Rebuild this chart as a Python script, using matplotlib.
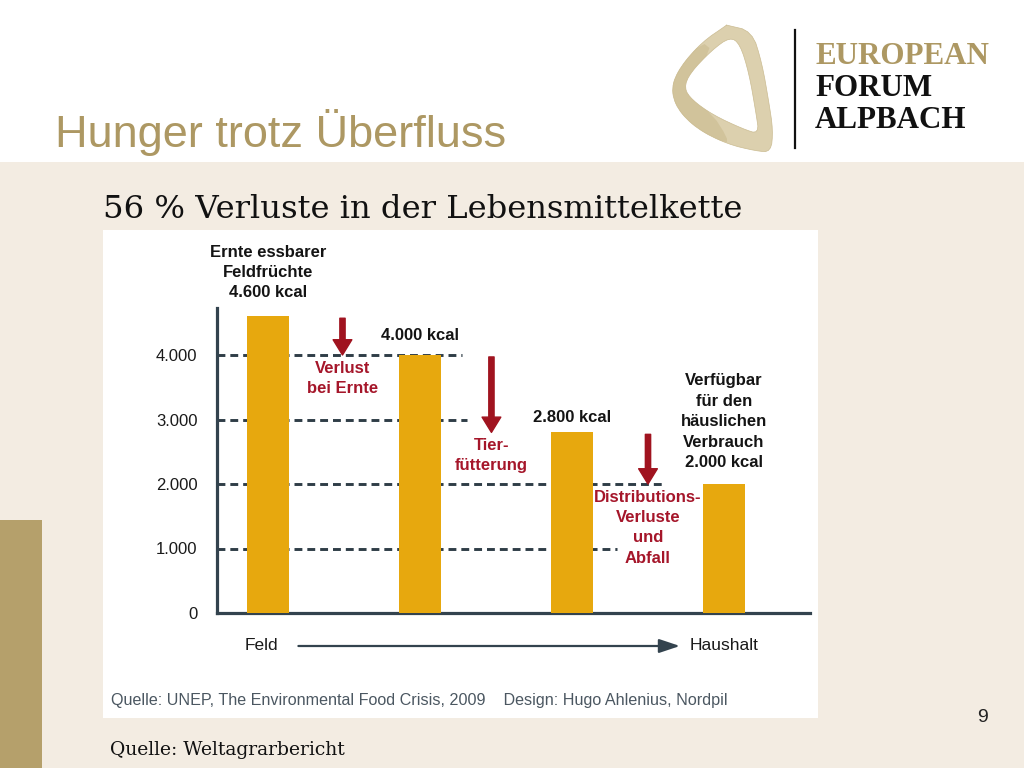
import matplotlib
matplotlib.use("Agg")
import matplotlib.pyplot as plt
import numpy as np
from matplotlib.path import Path
from matplotlib.patches import PathPatch, Rectangle

# ---------------- data ----------------
stages = ["Ernte", "nach Ernte", "nach Tierfütterung", "Haushalt"]
values = [4600, 4000, 2800, 2000]
value_labels = ["Ernte essbarer\nFeldfrüchte\n4.600 kcal",
                "4.000 kcal",
                "2.800 kcal",
                "Verfügbar\nfür den\nhäuslichen\nVerbrauch\n2.000 kcal"]
loss_labels = ["Verlust\nbei Ernte", "Tier-\nfütterung",
               "Distributions-\nVerluste\nund\nAbfall"]
yticks = [0, 1000, 2000, 3000, 4000]
ytick_labels = ["0", "1.000", "2.000", "3.000", "4.000"]
axis_ends = ["Feld", "Haushalt"]

title = "Hunger trotz Überfluss"
subtitle = "56 % Verluste in der Lebensmittelkette"
chart_source = "Quelle: UNEP, The Environmental Food Crisis, 2009    Design: Hugo Ahlenius, Nordpil"
slide_source = "Quelle: Weltagrarbericht"
page_number = "9"
logo_words = ["EUROPEAN", "FORUM", "ALPBACH"]

# ---------------- style ----------------
W, H = 1024, 768
BEIGE = "#f3ece2"
BROWN = "#b5a06b"
GOLD = "#ad9863"
BAR = "#e7a80e"
RED = "#a0131f"
RED_TXT = "#a5162a"
SLATE = "#33434e"
SANS = ["Liberation Sans", "DejaVu Sans"]
SERIF = ["DejaVu Serif"]
LOGO_SERIF = ["Liberation Serif", "DejaVu Serif"]
LS = 1.45

fig = plt.figure(figsize=(W / 100, H / 100), dpi=100)
fig.patch.set_facecolor("white")

deco = fig.add_axes([0, 0, 1, 1], zorder=0)
deco.set_xlim(0, W)
deco.set_ylim(H, 0)
deco.axis("off")

deco.add_patch(Rectangle((0, 162), W, H - 162, color=BEIGE, lw=0))
deco.add_patch(Rectangle((0, 520), 42, H - 520, color=BROWN, lw=0))
deco.add_patch(Rectangle((103, 230), 715, 488, color="white", lw=0))

# title & texts
deco.text(55, 132, title, fontsize=32.5, color=GOLD, family=SANS,
          ha="left", va="center")
deco.text(103, 209, subtitle, fontsize=23.2, color="#111111", family=SERIF,
          ha="left", va="center")
deco.text(110, 750, slide_source, fontsize=13.5, color="#111111",
          family=SERIF, ha="left", va="center")
deco.text(983, 718, page_number, fontsize=14, color="#222222",
          family=SANS, ha="center", va="center")
deco.text(111, 701, chart_source, fontsize=11.6, color="#4b5761",
          family=SANS, ha="left", va="center")

# logo
def chaikin(pts, n=2):
    p = np.asarray(pts, float)
    for _ in range(n):
        q = np.roll(p, -1, axis=0)
        a = 0.75 * p + 0.25 * q
        b = 0.25 * p + 0.75 * q
        p = np.empty((2 * len(a), 2))
        p[0::2] = a
        p[1::2] = b
    return p

def ring(outer_pts, inner_pts):
    o = chaikin(outer_pts)
    i = chaikin(inner_pts)[::-1]
    verts = np.vstack([o, o[:1], i, i[:1]])
    codes = ([Path.MOVETO] + [Path.LINETO] * (len(o) - 1) + [Path.CLOSEPOLY]
             + [Path.MOVETO] + [Path.LINETO] * (len(i) - 1) + [Path.CLOSEPOLY])
    return Path(verts, codes)

outer = [(727, 25), (726, 25), (752, 31), (762, 63), (769, 103), (773, 130),
         (771, 152), (756, 151), (727, 144), (697, 129), (677, 109),
         (671, 88), (680, 67), (702, 42)]
inner = [(730, 37), (740, 44), (749, 73), (756, 113), (759, 134),
         (743, 129), (713, 115), (692, 100), (684, 88), (690, 73),
         (712, 50)]
deco.add_patch(PathPatch(ring(outer, inner), facecolor="#dcd0ae",
                         edgecolor="#cbbc92", lw=0.5))
# darker shading on the left and bottom parts of the band
shade_o = [(702, 42), (680, 67), (671, 88), (677, 109), (697, 129), (727, 144),
           (727, 137), (713, 115), (692, 100), (684, 88), (690, 73), (712, 50)]
deco.add_patch(PathPatch(Path(chaikin(shade_o, 1), closed=False),
                         facecolor="#c9b98c", edgecolor="none", alpha=0.55))
deco.plot([795, 795], [30, 148], color="#111111", lw=1.6)
for word, yy, col in zip(logo_words, [56, 89, 121], [GOLD, "#111111", "#111111"]):
    deco.text(815, yy, word, fontsize=22.3, fontweight="bold", color=col,
              family=LOGO_SERIF, ha="left", va="center")

# ---------------- chart ----------------
ax_l, ax_r, ax_b, ax_t = 217, 810, 613, 308
ax = fig.add_axes([ax_l / W, 1 - ax_b / H, (ax_r - ax_l) / W, (ax_b - ax_t) / H],
                  zorder=2)
ax.set_facecolor("none")
px_per_cat = 152.0
px_per_kcal = 64.5 / 1000
x = np.arange(len(values))
ax.set_xlim(-(268 - ax_l) / px_per_cat, (ax_r - 268) / px_per_cat)
ax.set_ylim(0, (ax_b - ax_t) / px_per_kcal)

for s in ["top", "right"]:
    ax.spines[s].set_visible(False)
for s in ["left", "bottom"]:
    ax.spines[s].set_color(SLATE)
    ax.spines[s].set_linewidth(2.3)
ax.set_xticks([])
ax.set_yticks(yticks, ytick_labels)
ax.tick_params(axis="y", length=0, pad=14, labelsize=12, labelcolor="#1a1a1a")
for lab in ax.get_yticklabels():
    lab.set_family(SANS)

# dashed guide lines
grid_ends = [2.296, 2.612, 1.309, 1.276]
for yv, xe in zip(yticks[1:], grid_ends):
    ax.plot([ax.get_xlim()[0], xe], [yv, yv], color="#2f3d47", lw=2.1,
            ls=(0, (2.7, 1.7)), zorder=1, dash_capstyle="butt", clip_on=False)

ax.bar(x, values, width=42 / px_per_cat, color=BAR, zorder=3)

gaps_px = [16, 12, 7, 14]
for xi, v, lab, g in zip(x, values, value_labels, gaps_px):
    ax.annotate(lab, (xi, v), xytext=(0, g * 0.72), textcoords="offset points",
                ha="center", va="bottom", fontsize=12, fontweight="bold",
                color="#141414", family=SANS, linespacing=LS,
                annotation_clip=False)

arrow_x = [0.49, 1.47, 2.5]
for i, ax_x in enumerate(arrow_x):
    ax.annotate("", xy=(ax_x, values[i + 1]), xytext=(ax_x, values[i] - 30),
                arrowprops=dict(arrowstyle="simple,head_width=1.35,head_length=1.1,tail_width=0.38",
                                mutation_scale=10, color=RED, shrinkA=0, shrinkB=0),
                annotation_clip=False, zorder=4)
    ax.annotate(loss_labels[i], (ax_x, values[i + 1]), xytext=(0, -4),
                textcoords="offset points", ha="center", va="top",
                fontsize=12, fontweight="bold", color=RED_TXT, family=SANS,
                linespacing=LS, annotation_clip=False)

# Feld -> Haushalt
y_flow = -(646 - ax_b) / px_per_kcal
ax.text(x[0] - 0.04, y_flow, axis_ends[0], ha="center", va="center",
        fontsize=12.5, color="#1a1a1a", family=SANS, clip_on=False)
ax.text(x[-1], y_flow, axis_ends[1], ha="center", va="center",
        fontsize=12.5, color="#1a1a1a", family=SANS, clip_on=False)
ax.annotate("", xy=(x[0] + 2.71, y_flow), xytext=(x[0] + 0.2, y_flow),
            arrowprops=dict(arrowstyle="-|>,head_width=0.3,head_length=0.9",
                            mutation_scale=14, color=SLATE, lw=1.6,
                            shrinkA=0, shrinkB=0),
            annotation_clip=False)

fig.savefig("out.png", dpi=100)
